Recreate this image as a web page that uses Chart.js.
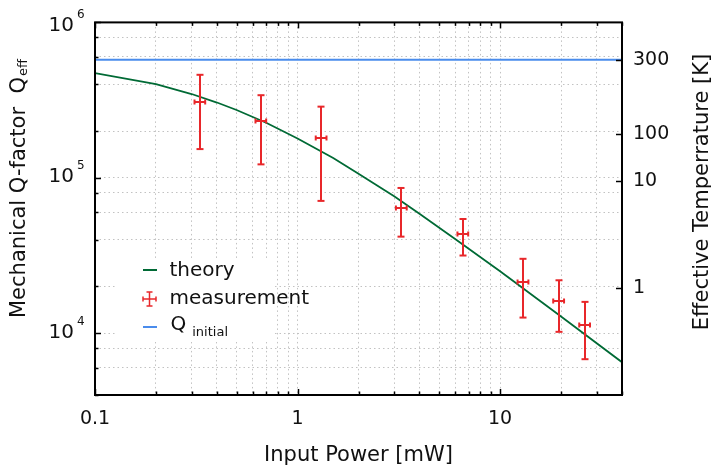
<!DOCTYPE html>
<html>
<head>
<meta charset="utf-8">
<script src="https://cdn.jsdelivr.net/npm/chart.js@4"></script>
<style>
  body { margin: 0; background: #fff; }
  #wrap { width: 711px; height: 468px; }
</style>
</head>
<body>
<div id="wrap"><canvas id="chart"></canvas></div>
<script>
// theory curve
const theoryPower = [0.1, 0.2, 0.3, 0.4, 0.5, 0.7, 1, 1.5, 2, 3, 4, 6, 10, 20, 40];
const theoryQ = [4.71e5, 4.0e5, 3.46e5, 3.05e5, 2.73e5, 2.26e5, 1.79e5, 1.34e5, 1.06e5, 7.6e4, 5.86e4, 4.04e4, 2.5e4, 1.28e4, 6.5e3];

// measurements with error bars
const measPower = [0.33, 0.66, 1.31, 3.26, 6.56, 13, 19.5, 26.2];
const measPowerErr = [0.02, 0.04, 0.08, 0.2, 0.4, 0.8, 1.2, 1.6];
const measQ = [3.09e5, 2.33e5, 1.80e5, 6.4e4, 4.35e4, 2.13e4, 1.61e4, 1.13e4];
const measQHigh = [4.6e5, 3.4e5, 2.87e5, 8.6e4, 5.43e4, 3.01e4, 2.19e4, 1.59e4];
const measQLow = [1.53e5, 1.22e5, 7.1e4, 4.18e4, 3.16e4, 1.26e4, 1.02e4, 6.8e3];

// initial Q (flat line)
const qInitialPower = [0.1, 40];
const qInitial = 5.74e5;

// axes
const xTicks = [0.1, 0.2, 0.3, 0.4, 0.5, 0.6, 0.7, 0.8, 0.9, 1, 2, 3, 4, 5, 6, 7, 8, 9, 10, 20, 30, 40];
const xLabels = [0.1, 1, 10];
const yTicks = [4e3, 6e3, 8e3, 1e4, 2e4, 4e4, 6e4, 8e4, 1e5, 2e5, 4e5, 6e5, 8e5, 1e6];
const yLabels = [1e4, 1e5, 1e6];
const yLabelExp = ['4', '5', '6'];
const tempTicks = [1.94e4, 9.5e4, 1.9e5, 5.74e5];
const tempLabels = ['1', '10', '100', '300'];

const FONT = '"DejaVu Sans", Verdana, sans-serif';
const GREEN = '#006a35';
const RED = '#e8272a';
const BLUE = '#4a8cec';
const GRID = '#c2c2c2';
const INK = '#111';

Chart.defaults.font.family = FONT;

const line = (ctx, x1, y1, x2, y2) => {
    ctx.beginPath();
    ctx.moveTo(x1, y1);
    ctx.lineTo(x2, y2);
    ctx.stroke();
};

const extras = {
    id: 'extras',
    afterDatasetsDraw(chart) {
        const ctx = chart.ctx;
        const xs = chart.scales.x, ys = chart.scales.y;

        // error bars
        ctx.save();
        ctx.strokeStyle = RED;
        ctx.lineWidth = 2;
        measPower.forEach((p, i) => {
            const px = Math.round(xs.getPixelForValue(p));
            const py = Math.round(ys.getPixelForValue(measQ[i]));
            const top = ys.getPixelForValue(measQHigh[i]);
            const bot = ys.getPixelForValue(measQLow[i]);
            const left = xs.getPixelForValue(p - measPowerErr[i]);
            const right = xs.getPixelForValue(p + measPowerErr[i]);
            line(ctx, px, top, px, bot);
            line(ctx, px - 3.5, top, px + 3.5, top);
            line(ctx, px - 3.5, bot, px + 3.5, bot);
            line(ctx, left, py, right, py);
            line(ctx, left, py - 2.5, left, py + 2.5);
            line(ctx, right, py - 2.5, right, py + 2.5);
        });
        ctx.restore();

        // legend
        ctx.save();
        ctx.fillStyle = '#fff';
        ctx.fillRect(117, 258, 155, 84);
        const ds = chart.data.datasets;
        ctx.lineWidth = 2;
        ctx.strokeStyle = ds[0].borderColor;
        line(ctx, 143, 270, 157, 270);
        ctx.strokeStyle = RED;
        ctx.lineWidth = 1.5;
        line(ctx, 143, 299, 156, 299);
        line(ctx, 143, 296.5, 143, 301.5);
        line(ctx, 156, 296.5, 156, 301.5);
        line(ctx, 149.5, 292, 149.5, 306);
        line(ctx, 146.5, 292, 152.5, 292);
        line(ctx, 146.5, 306, 152.5, 306);
        ctx.lineWidth = 2;
        ctx.strokeStyle = ds[2].borderColor;
        line(ctx, 143, 327, 157, 327);

        ctx.fillStyle = INK;
        ctx.textAlign = 'left';
        ctx.textBaseline = 'alphabetic';
        ctx.font = `20px ${FONT}`;
        ctx.fillText(ds[0].label, 169.5, 276);
        ctx.fillText(ds[1].label, 169.5, 304);
        const [qMain, qSub] = ds[2].label.split(' ');
        ctx.fillText(qMain, 170.5, 330);
        const qw = ctx.measureText(qMain).width;
        ctx.font = `13px ${FONT}`;
        ctx.fillText(qSub, 170.5 + qw + 6, 336);
        ctx.restore();
    },
    afterDraw(chart) {
        const ctx = chart.ctx;
        const ca = chart.chartArea;
        const xs = chart.scales.x, ys = chart.scales.y, ys1 = chart.scales.y1;
        ctx.save();

        // frame
        ctx.strokeStyle = '#000';
        ctx.lineWidth = 2;
        ctx.strokeRect(ca.left, ca.top, ca.right - ca.left, ca.bottom - ca.top);

        // inward ticks
        ctx.lineWidth = 1.5;
        xTicks.forEach(v => {
            const x = Math.round(xs.getPixelForValue(v)) + 0.5;
            const len = xLabels.includes(v) ? 6 : 3.5;
            line(ctx, x, ca.bottom, x, ca.bottom - len);
            line(ctx, x, ca.top, x, ca.top + len);
        });
        yTicks.forEach(v => {
            const y = Math.round(ys.getPixelForValue(v)) + 0.5;
            const len = yLabels.includes(v) ? 6 : 3.5;
            line(ctx, ca.left, y, ca.left + len, y);
        });
        tempTicks.forEach(v => {
            const y = Math.round(ys1.getPixelForValue(v)) + 0.5;
            line(ctx, ca.right, y, ca.right - 6, y);
        });

        // left tick labels 10^n
        ctx.fillStyle = INK;
        ctx.textBaseline = 'alphabetic';
        yLabels.forEach((v, i) => {
            const cy = Math.max(ys.getPixelForValue(v) - 2.8, 24);
            ctx.font = `20px ${FONT}`;
            ctx.textAlign = 'right';
            ctx.fillText('10', 74, cy + 7.2);
            ctx.font = `12px ${FONT}`;
            ctx.textAlign = 'left';
            ctx.fillText(yLabelExp[i], 77, cy - 5.6);
        });

        // axis titles
        ctx.font = `21px ${FONT}`;
        ctx.textAlign = 'center';
        ctx.fillText('Input Power [mW]', (ca.left + ca.right) / 2, 461);

        ctx.save();
        ctx.translate(708, 192);
        ctx.rotate(-Math.PI / 2);
        ctx.fillText('Effective Temperrature [K]', 0, 0);
        ctx.restore();

        ctx.save();
        ctx.translate(25, 318);
        ctx.rotate(-Math.PI / 2);
        ctx.textAlign = 'left';
        const main = 'Mechanical Q-factor  Q';
        ctx.fillText(main, 0, 0);
        const w = ctx.measureText(main).width;
        ctx.font = `13px ${FONT}`;
        ctx.fillText('eff', w + 1, 1.5);
        ctx.restore();

        ctx.restore();
    }
};

new Chart(document.getElementById('chart'), {
    type: 'scatter',
    data: {
        datasets: [
            {
                label: 'theory',
                data: theoryPower.map((p, i) => ({ x: p, y: theoryQ[i] })),
                showLine: true,
                borderColor: GREEN,
                borderWidth: 1.8,
                pointRadius: 0,
                tension: 0
            },
            {
                label: 'measurement',
                data: measPower.map((p, i) => ({ x: p, y: measQ[i] })),
                showLine: false,
                pointRadius: 0,
                borderColor: RED
            },
            {
                label: 'Q initial',
                data: qInitialPower.map(p => ({ x: p, y: qInitial })),
                showLine: true,
                borderColor: BLUE,
                borderWidth: 2,
                pointRadius: 0
            }
        ]
    },
    options: {
        responsive: true,
        maintainAspectRatio: false,
        animation: false,
        layout: { padding: { top: 21 } },
        plugins: {
            legend: { display: false },
            tooltip: { enabled: false }
        },
        scales: {
            x: {
                type: 'logarithmic',
                min: 0.1,
                max: 40,
                afterBuildTicks: s => { s.ticks = xTicks.map(v => ({ value: v })); },
                afterFit: s => { s.height = 73; },
                ticks: {
                    autoSkip: false,
                    maxRotation: 0,
                    padding: 12.5,
                    color: INK,
                    font: { size: 19 },
                    callback: v => xLabels.includes(v) ? String(v) : ''
                },
                grid: { color: GRID, drawTicks: false },
                border: { display: false, dash: [1.5, 3] }
            },
            y: {
                type: 'logarithmic',
                position: 'left',
                min: 4e3,
                max: 1e6,
                afterBuildTicks: s => { s.ticks = yTicks.map(v => ({ value: v })); },
                afterFit: s => { s.width = 95; },
                ticks: { display: false },
                grid: { color: GRID, drawTicks: false },
                border: { display: false, dash: [1.5, 3] }
            },
            y1: {
                type: 'logarithmic',
                position: 'right',
                min: 4e3,
                max: 1e6,
                afterBuildTicks: s => { s.ticks = tempTicks.map(v => ({ value: v })); },
                afterFit: s => { s.width = 89; },
                ticks: {
                    padding: 11,
                    color: INK,
                    font: { size: 19 },
                    callback: (v, i) => tempLabels[i]
                },
                grid: { display: false, drawTicks: false },
                border: { display: false }
            }
        }
    },
    plugins: [extras]
});
</script>
</body>
</html>
